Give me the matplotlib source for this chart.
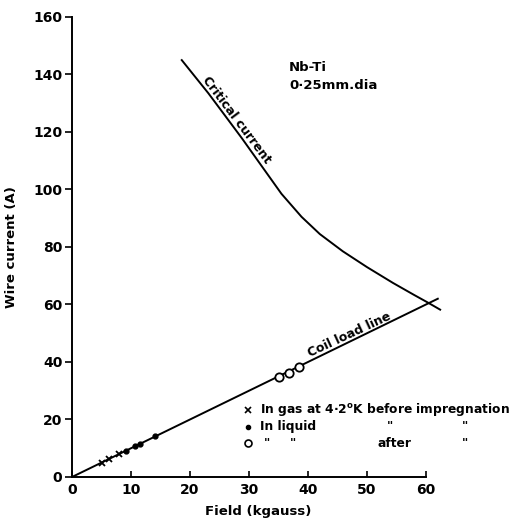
import matplotlib
matplotlib.use('Agg')
import matplotlib.pyplot as plt

# values
crit_field = [18.6, 23.1, 25.9, 28.8, 32.2, 35.5, 38.9, 42.0, 45.9, 50.0, 54.4, 58.0, 60.2, 62.4]
crit_current = [145.0, 133.5, 125.8, 117.8, 108.0, 98.5, 90.5, 84.5, 78.5, 73.0, 67.5, 63.3, 60.8, 58.2]

load_field = [0, 62]
load_current = [0, 62]

gas_field = [5.0, 6.2, 8.0]
gas_current = [5.0, 6.2, 8.0]
liq_field = [9.2, 10.7, 11.5, 14.1]
liq_current = [9.2, 10.7, 11.5, 14.1]
after_field = [35.1, 36.7, 38.4]
after_current = [34.9, 36.3, 38.2]

xticks = [0, 10, 20, 30, 40, 50, 60]
yticks = [0, 20, 40, 60, 80, 100, 120, 140, 160]

plt.rcParams['font.family'] = ['DejaVu Sans Condensed', 'DejaVu Sans']
plt.rcParams['font.weight'] = 'bold'

fig = plt.figure(figsize=(5.09, 5.26), dpi=100)
ax = fig.add_axes([0.1415, 0.0932, 0.7302, 0.8745])

ax.plot(crit_field, crit_current, color='black', lw=1.4)
ax.plot(load_field, load_current, color='black', lw=1.4)

ax.plot(gas_field, gas_current, 'x', color='black', ms=5, mew=1.3)
ax.plot(liq_field, liq_current, 'o', color='black', ms=3.5)
ax.plot(after_field, after_current, 'o', mfc='white', mec='black', ms=6, mew=1.3)

ax.set_xlim(0, 63)
ax.set_ylim(0, 160)
ax.spines['top'].set_visible(False)
ax.spines['right'].set_visible(False)
ax.spines['bottom'].set_bounds(0, 60)
ax.spines['left'].set_linewidth(1.4)
ax.spines['bottom'].set_linewidth(1.4)

ax.set_xticks(xticks)
ax.set_yticks(yticks)
ax.tick_params(axis='y', direction='out', length=5, width=1.2, labelsize=10, pad=2)
ax.tick_params(axis='x', direction='in', length=4, width=1.2, labelsize=10, pad=4)
for lab in ax.get_xticklabels() + ax.get_yticklabels():
    lab.set_fontweight('bold')

ax.set_xlabel('Field (kgauss)', fontsize=9.5, fontweight='bold', labelpad=6)
ax.set_ylabel('Wire current (A)', fontsize=9.5, fontweight='bold', labelpad=11)

# annotations
ax.text(27.9, 124.2, 'Critical current', rotation=-53, fontsize=9, fontweight='bold',
        ha='center', va='center', rotation_mode='anchor')
ax.text(47.0, 49.3, 'Coil load line', rotation=25, fontsize=9, fontweight='bold',
        ha='center', va='center', rotation_mode='anchor')
ax.text(36.8, 142.3, 'Nb-Ti', fontsize=9.5, fontweight='bold', va='center')
ax.text(36.8, 136.3, '0·25mm.dia', fontsize=9.5, fontweight='bold', va='center')

# key
rows = [23.3, 17.4, 11.8]
ax.plot([29.8], [rows[0]], 'x', color='black', ms=4.5, mew=1.2, clip_on=False)
ax.plot([29.8], [rows[1]], 'o', color='black', ms=3, clip_on=False)
ax.plot([29.8], [rows[2]], 'o', mfc='white', mec='black', ms=5, mew=1.2, clip_on=False)
kw = dict(fontsize=8.8, fontweight='bold', va='center')
ax.text(31.8, rows[0], 'In gas at 4·2$^{\\mathbf{o}}$K before impregnation', **kw)
ax.text(31.8, rows[1], 'In liquid', **kw)
ax.text(53.4, rows[1], '"', **kw)
ax.text(66.1, rows[1], '"', **kw)
ax.text(32.6, rows[2], '"', **kw)
ax.text(37.0, rows[2], '"', **kw)
ax.text(51.7, rows[2], 'after', **kw)
ax.text(66.1, rows[2], '"', **kw)

fig.savefig('out.png', dpi=100)
